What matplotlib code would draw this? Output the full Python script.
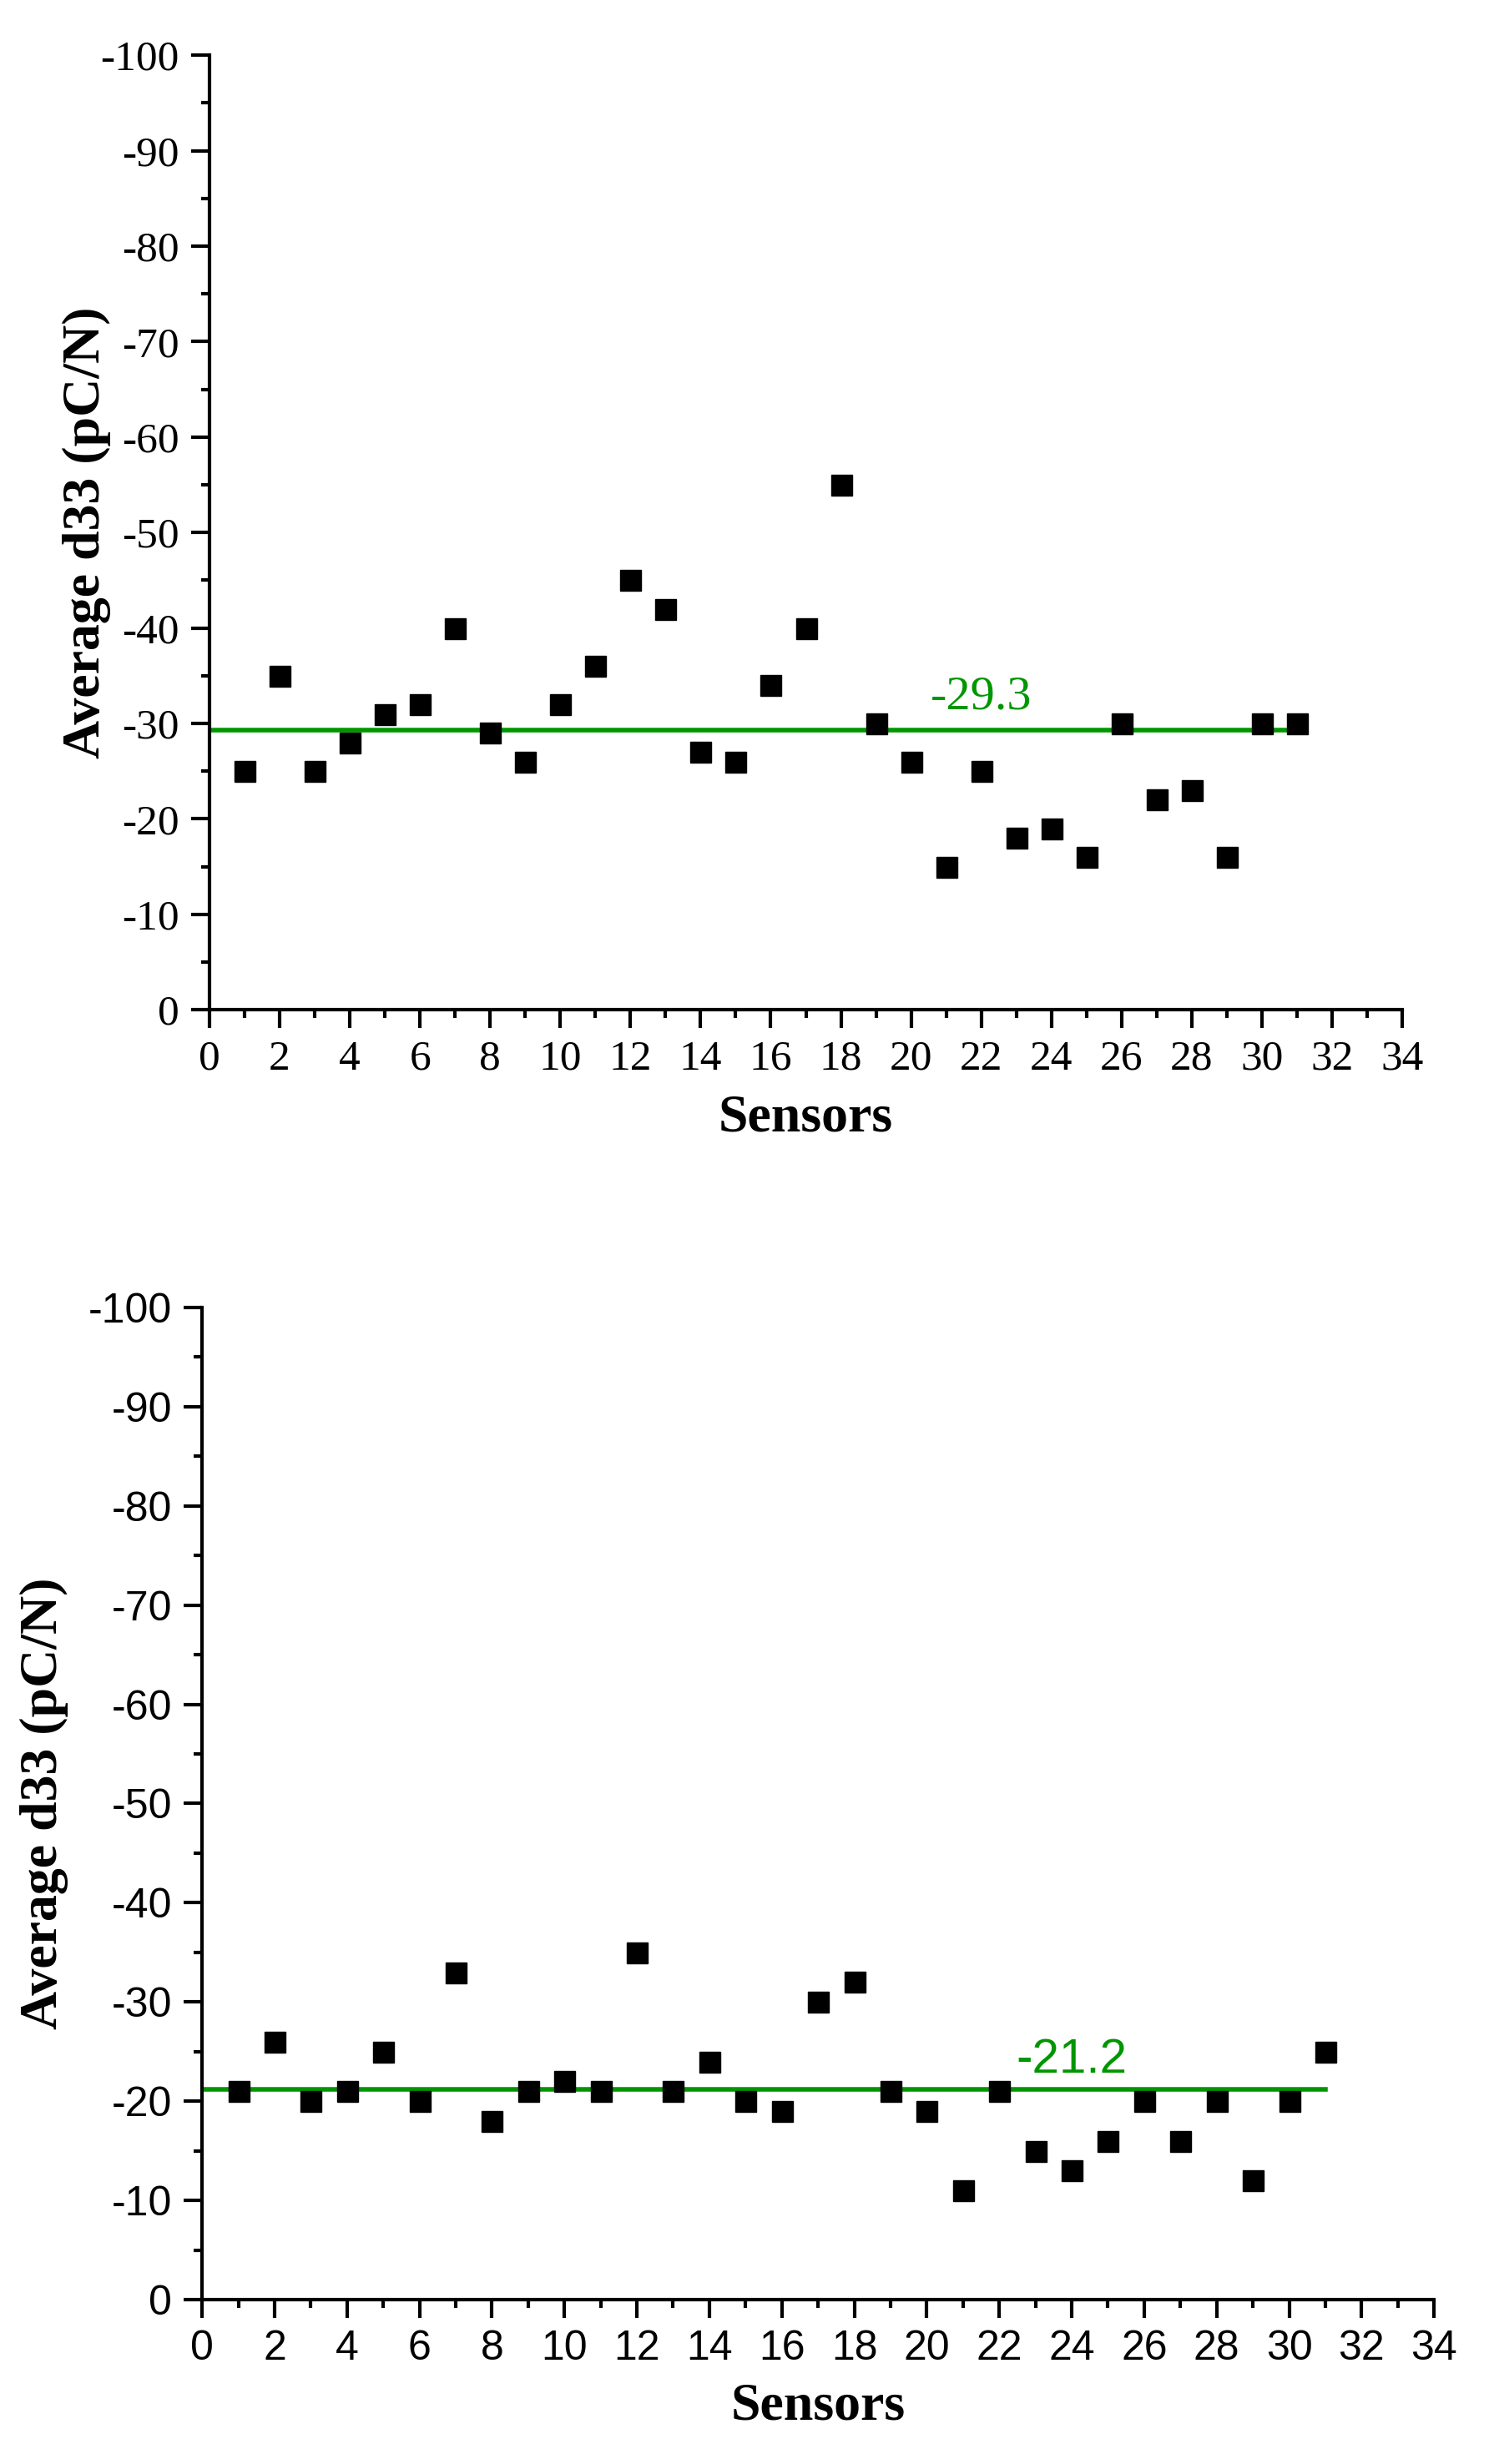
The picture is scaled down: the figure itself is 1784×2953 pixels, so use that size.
import numpy as np
import matplotlib
matplotlib.use("Agg")
from matplotlib import pyplot as plt
from matplotlib.ticker import MultipleLocator


# sensor numbers and average d33 values
sensors = np.arange(1, 32)
d33_top = [-25, -35, -25, -28, -31, -32, -40, -29, -26, -32, -36, -45, -42, -27, -26,
           -34, -40, -55, -30, -26, -15, -25, -18, -19, -16, -30, -22, -23, -16, -30, -30]
d33_bottom = [-21, -26, -20, -21, -25, -20, -33, -18, -21, -22, -21, -35, -21, -24, -20,
              -19, -30, -32, -21, -19, -11, -21, -15, -13, -16, -20, -16, -20, -12, -20, -25]
mean_top = -29.3
mean_bottom = -21.2
mean_labels = ["-29.3", "-21.2"]
label_x = [22.0, 24.0]

GREEN = "#009600"
LABEL_FONT = "Liberation Serif"

plt.rcParams["axes.unicode_minus"] = False

fig = plt.figure(figsize=(17.84, 29.53), dpi=100)

ax_top = fig.add_axes([0.1407, 0.5902, 0.8010, 0.3874])
ax_bot = fig.add_axes([0.1357, 0.0667, 0.8274, 0.4027])

panels = [
    (ax_top, d33_top, mean_top, "Liberation Serif", 37, -0.103, -0.114, -30.5),
    (ax_bot, d33_bottom, mean_bottom, "Liberation Sans", 36, -0.128, -0.108, -21.9),
]

for i, (ax, vals, mean, tick_font, tick_size, ylab_x, xlab_y, txt_y) in enumerate(panels):
    ax.plot(sensors, vals, linestyle="none", marker="s", ms=18, color="black", zorder=3)
    ax.plot([0, 31], [mean, mean], color=GREEN, lw=4, zorder=2)
    ax.text(label_x[i], txt_y, mean_labels[i], color=GREEN, ha="center", va="bottom",
            fontsize=42, family=tick_font)

    ax.set_xlim(0, 34)
    ax.set_ylim(0, -100)
    ax.xaxis.set_major_locator(MultipleLocator(2))
    ax.xaxis.set_minor_locator(MultipleLocator(1))
    ax.yaxis.set_major_locator(MultipleLocator(10))
    ax.yaxis.set_minor_locator(MultipleLocator(5))

    for side in ["top", "right"]:
        ax.spines[side].set_visible(False)
    for side in ["left", "bottom"]:
        ax.spines[side].set_linewidth(3)
        ax.spines[side].set_zorder(4)

    ax.tick_params(which="major", direction="out", length=16, width=3, pad=10)
    ax.tick_params(which="minor", direction="out", length=7.5, width=3)
    for lab in ax.get_xticklabels() + ax.get_yticklabels():
        lab.set_family(tick_font)
        lab.set_fontsize(tick_size)

    ax.set_xlabel("Sensors", fontsize=46, fontweight="bold", family=LABEL_FONT)
    ax.set_ylabel("Average d33 (pC/N)", fontsize=46, fontweight="bold", family=LABEL_FONT)
    ax.xaxis.label.set_verticalalignment("center")
    ax.yaxis.label.set_verticalalignment("center")
    ax.xaxis.set_label_coords(0.5, xlab_y)
    ax.yaxis.set_label_coords(ylab_x, 0.5)

fig.savefig("out.png", dpi=100, facecolor="white")
